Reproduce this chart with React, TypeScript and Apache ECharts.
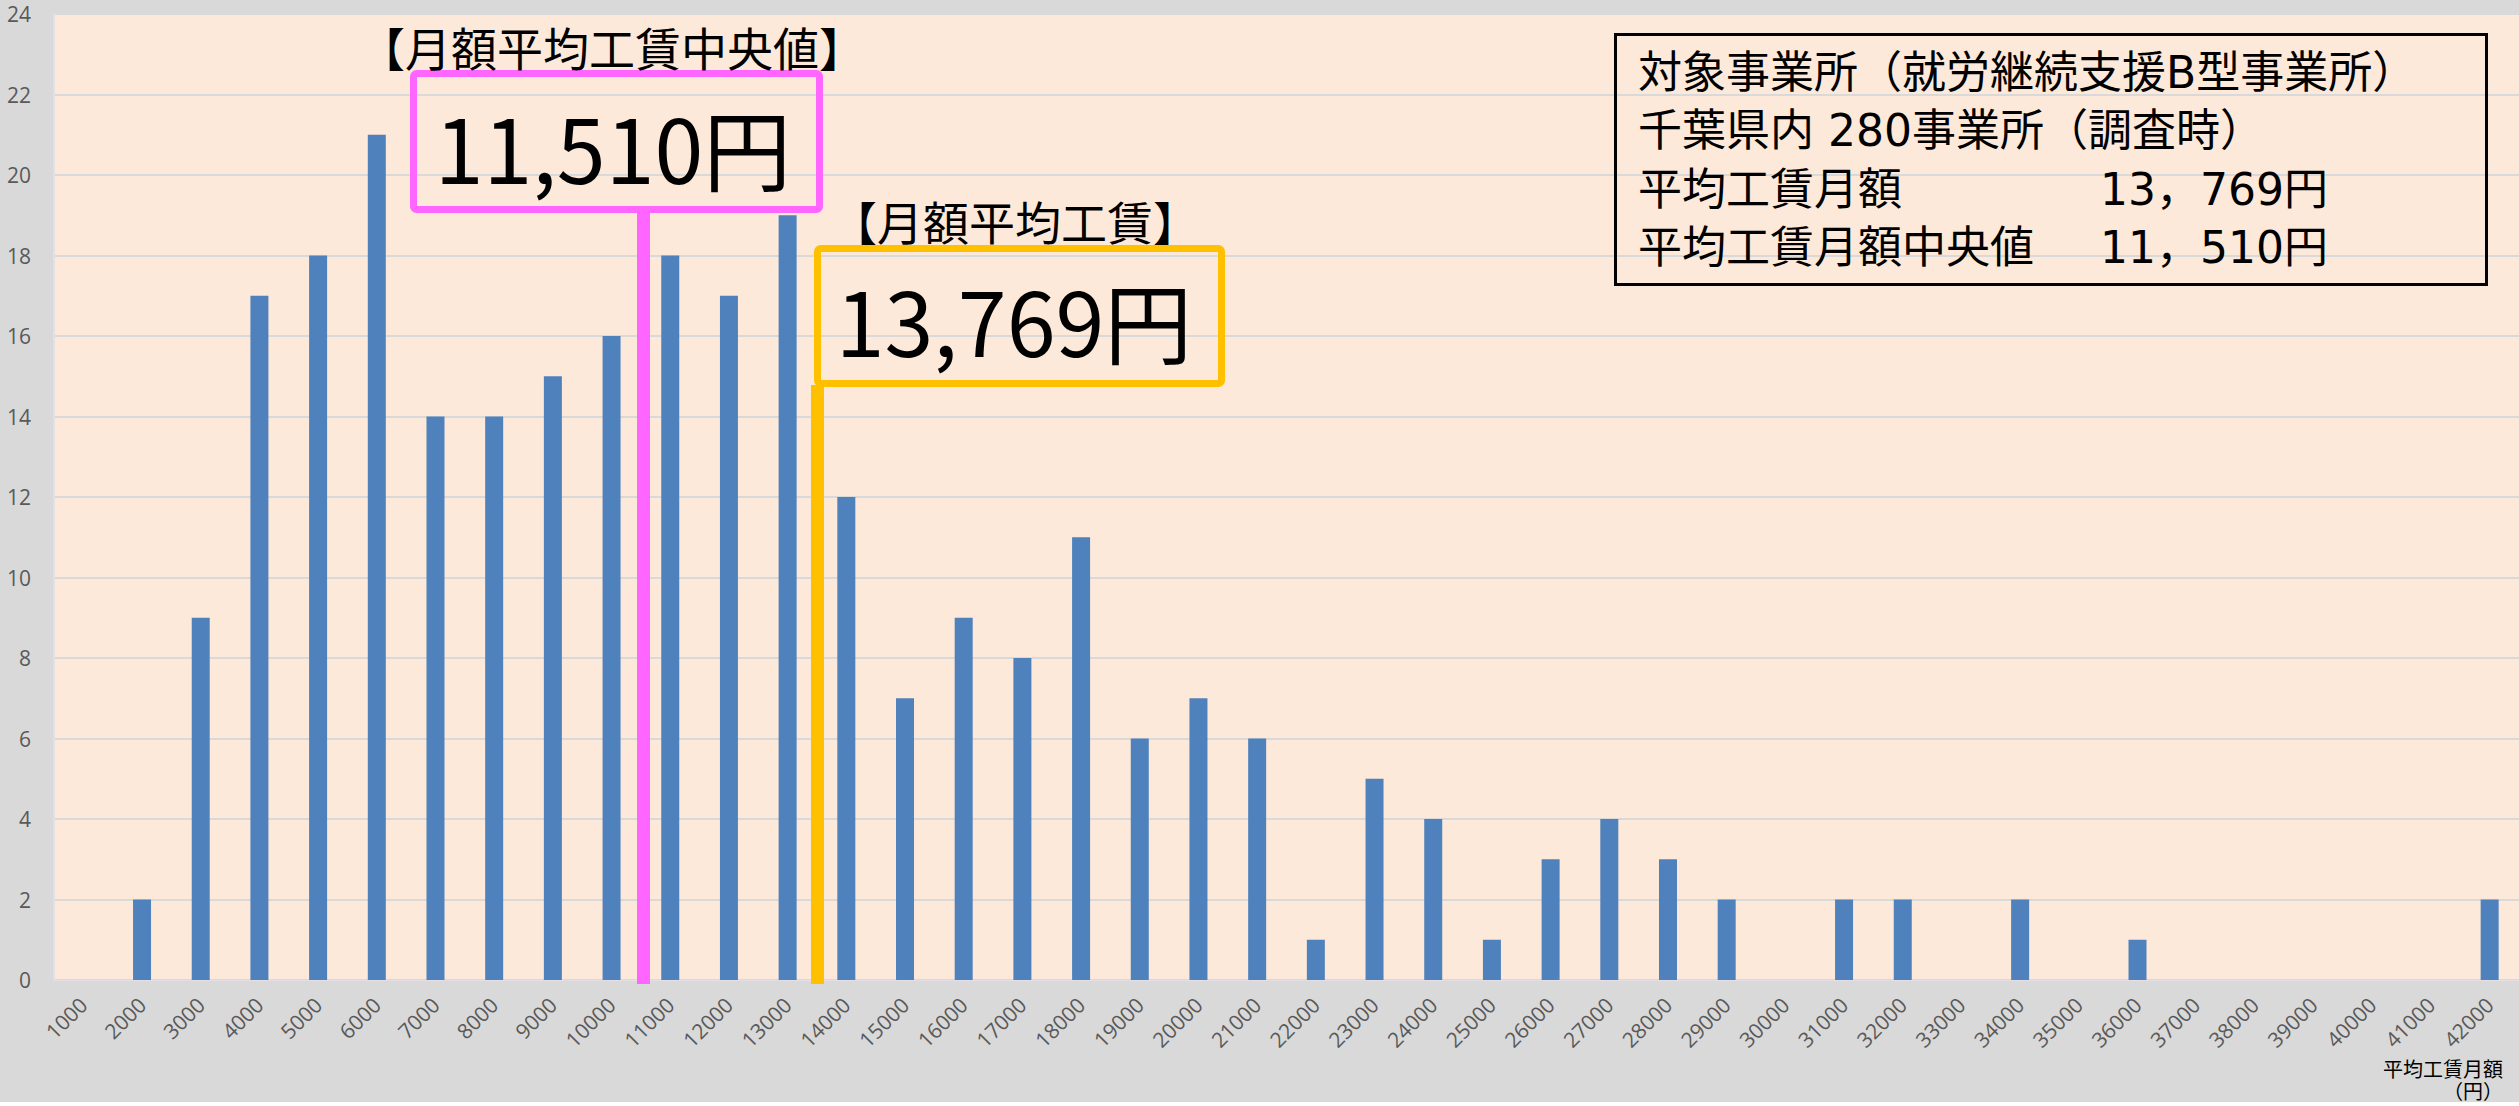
import React, { useEffect, useRef } from "react";
import * as echarts from "echarts";

// 月額工賃の階級（円）
const categories = [
  "1000", "2000", "3000", "4000", "5000", "6000", "7000", "8000", "9000", "10000",
  "11000", "12000", "13000", "14000", "15000", "16000", "17000", "18000", "19000", "20000",
  "21000", "22000", "23000", "24000", "25000", "26000", "27000", "28000", "29000", "30000",
  "31000", "32000", "33000", "34000", "35000", "36000", "37000", "38000", "39000", "40000",
  "41000", "42000",
];

// 事業所数
const counts = [
  0, 2, 9, 17, 18, 21, 14, 14, 15, 16,
  18, 17, 19, 12, 7, 9, 8, 11, 6, 7,
  6, 1, 5, 4, 1, 3, 4, 3, 2, 0,
  2, 2, 0, 2, 0, 1, 0, 0, 0, 0,
  0, 2,
];

const yMin = 0;
const yMax = 24;
const yInterval = 2;

const medianLabel = "11,510円";
const meanLabel = "13,769円";
const medianTitle = "【月額平均工賃中央値】";
const meanTitle = "【月額平均工賃】";

const infoLines = [
  "対象事業所（就労継続支援B型事業所）",
  "千葉県内 280事業所（調査時）",
];
const infoRows = [
  ["平均工賃月額", "13，769円"],
  ["平均工賃月額中央値", "11，510円"],
];

const axisName = "平均工賃月額\n（円）";

const CJK = '"Noto Sans CJK JP", "Noto Sans CJK SC", sans-serif';
const INFO_FONT = '"DejaVu Sans", "Noto Sans CJK JP", sans-serif';

export default function App() {
  const ref = useRef<HTMLDivElement>(null);

  useEffect(() => {
    document.body.style.margin = "0";
    if (!ref.current) return;
    const chart = echarts.init(ref.current, undefined, { renderer: "svg" });

    const PINK = "#FF66FF";
    const GOLD = "#FFC000";

    const graphic: any[] = [
      // white strip under the gray chart area
      {
        type: "rect",
        z: 1,
        shape: { x: 0, y: 1102, width: 2519, height: 4 },
        style: { fill: "#FFFFFF" },
      },
      // info box
      {
        type: "rect",
        z: 100,
        shape: { x: 1615.5, y: 34.5, width: 871, height: 250 },
        style: { fill: "none", stroke: "#000", lineWidth: 3 },
      },
      ...infoLines.map((t, i) => ({
        type: "text",
        z: 101,
        x: 1638,
        y: 72 + i * 58.5,
        style: { text: t, fontSize: 44, fontFamily: INFO_FONT, fill: "#000", align: "left", verticalAlign: "middle" },
      })),
      ...infoRows.flatMap((r, i) => [
        {
          type: "text",
          z: 101,
          x: 1638,
          y: 189 + i * 58,
          style: { text: r[0], fontSize: 44, fontFamily: INFO_FONT, fill: "#000", align: "left", verticalAlign: "middle" },
        },
        {
          type: "text",
          z: 101,
          x: 2100,
          y: 189 + i * 58,
          style: { text: r[1], fontSize: 44, fontFamily: INFO_FONT, fill: "#000", align: "left", verticalAlign: "middle" },
        },
      ]),
      // median callout
      {
        type: "text",
        z: 101,
        x: 612,
        y: 46,
        style: { text: medianTitle, fontSize: 46, fontFamily: CJK, fill: "#000", align: "center", verticalAlign: "middle" },
      },
      {
        type: "rect",
        z: 100,
        shape: { x: 413.5, y: 73.5, width: 406, height: 136, r: 3 },
        style: { fill: "none", stroke: PINK, lineWidth: 7 },
      },
      {
        type: "rect",
        z: 100,
        shape: { x: 637, y: 212, width: 13, height: 772 },
        style: { fill: PINK },
      },
      {
        type: "text",
        z: 101,
        x: 613,
        y: 145,
        style: { text: medianLabel, fontSize: 88, fontFamily: CJK, fill: "#000", align: "center", verticalAlign: "middle" },
      },
      // mean callout
      {
        type: "text",
        z: 101,
        x: 1015,
        y: 220,
        style: { text: meanTitle, fontSize: 46, fontFamily: CJK, fill: "#000", align: "center", verticalAlign: "middle" },
      },
      {
        type: "rect",
        z: 100,
        shape: { x: 817.5, y: 248.5, width: 404, height: 135, r: 3 },
        style: { fill: "none", stroke: GOLD, lineWidth: 7 },
      },
      {
        type: "rect",
        z: 100,
        shape: { x: 811, y: 385, width: 13, height: 599 },
        style: { fill: GOLD },
      },
      {
        type: "text",
        z: 101,
        x: 1014,
        y: 318,
        style: { text: meanLabel, fontSize: 88, fontFamily: CJK, fill: "#000", align: "center", verticalAlign: "middle" },
      },
      // axis name
      {
        type: "text",
        z: 101,
        x: 2503,
        y: 1079,
        style: {
          text: axisName,
          fontSize: 20,
          lineHeight: 22,
          fontFamily: CJK,
          fill: "#000",
          align: "right",
          verticalAlign: "middle",
        },
      },
    ];

    chart.setOption({
      animation: false,
      backgroundColor: "#D9D9D9",
      grid: {
        left: 54,
        right: 0,
        top: 14,
        bottom: 126,
        show: true,
        backgroundColor: "#FDE9D9",
        borderWidth: 0,
      },
      xAxis: {
        type: "category",
        data: categories,
        axisTick: { show: false },
        axisLine: { show: true, lineStyle: { color: "#E4DFE6", width: 1 } },
        axisLabel: {
          interval: 0,
          rotate: 45,
          margin: 21,
          padding: [22, 0, 0, 0],
          fontSize: 21,
          color: "#595959",
          fontFamily: '"Open Sans", sans-serif',
        },
      },
      yAxis: {
        type: "value",
        min: yMin,
        max: yMax,
        interval: yInterval,
        axisLine: { show: true, lineStyle: { color: "#E4DFE6", width: 2 } },
        axisTick: { show: false },
        splitLine: { show: true, lineStyle: { color: "#D9D9D9", width: 2 } },
        axisLabel: {
          margin: 23,
          fontSize: 21,
          color: "#595959",
          fontFamily: '"Open Sans", sans-serif',
        },
      },
      series: [
        {
          type: "bar",
          data: counts,
          barWidth: 18,
          itemStyle: { color: "#4F81BD" },
        },
      ],
      graphic,
    });

    return () => chart.dispose();
  }, []);

  return <div ref={ref} style={{ width: 2519, height: 1106 }} />;
}
